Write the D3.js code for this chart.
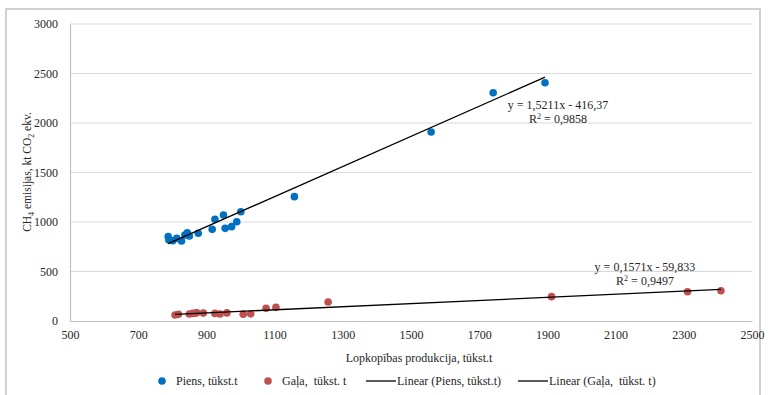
<!DOCTYPE html>
<html><head><meta charset="utf-8">
<script src="https://cdn.jsdelivr.net/npm/d3@7"></script>
<style>
body{margin:0;background:#fff;}
svg text{font-family:"Liberation Serif","Times New Roman",serif !important; white-space:pre;}
</style></head>
<body>
<svg id="chart" width="770" height="395"></svg>
<script>
// Data
const xTicks = [500,700,900,1100,1300,1500,1700,1900,2100,2300,2500];
const yTicks = [0,500,1000,1500,2000,2500,3000];
const pienaX = [788,790,801,813,827,837,844,850,876,917,925,950,955,974,989,1001,1158,1559,1741,1893];
const pienaY = [852,818,811,835,808,869,892,859,886,926,1027,1071,936,953,1003,1104,1256,1909,2306,2406];
const galasX = [808,818,850,860,868,872,891,925,940,960,1008,1030,1075,1104,1257,1912,2311,2409];
const galasY = [61,67,71,77,80,84,80,77,71,82,69,72,128,138,192,246,296,306];
const trendPiens = {slope:1.5211, intercept:-416.37, label:"y = 1,5211x - 416,37", r2:"0,9858"};
const trendGala = {slope:0.1571, intercept:-59.833, label:"y = 0,1571x - 59,833", r2:"0,9497"};
const seriesNames = ["Piens, tūkst.t","Gaļa,  tūkst. t","Linear (Piens, tūkst.t)","Linear (Gaļa,  tūkst. t)"];
const colors = {piens:"#0070C0", gala:"#C0504D"};

const svg = d3.select("#chart");
const m = {l:70, r:18, t:24, b:74};
const W = 770, H = 395;
const x = d3.scaleLinear().domain([500,2500]).range([m.l, W - m.r]);
const y = d3.scaleLinear().domain([0,3000]).range([321, m.t]);
const txt = "#262626";

// outer border
svg.append("rect").attr("x",6).attr("y",9).attr("width",754).attr("height",400)
  .attr("fill","none").attr("stroke","#d0d0d0").attr("stroke-width",2);

// gridlines
svg.append("g").selectAll("line").data(yTicks.filter(d=>d>0)).join("line")
  .attr("x1",x(500)).attr("x2",x(2500)).attr("y1",d=>y(d)).attr("y2",d=>y(d))
  .attr("stroke","#d9d9d9").attr("stroke-width",1.2);

// axes
const xAxis = svg.append("g").attr("transform",`translate(0,${y(0)})`)
  .call(d3.axisBottom(x).tickValues(xTicks).tickSize(0).tickPadding(9).tickFormat(d3.format("d")));
const yAxis = svg.append("g").attr("transform",`translate(${x(500)},0)`)
  .call(d3.axisLeft(y).tickValues(yTicks).tickSize(0).tickPadding(12).tickFormat(d3.format("d")));
[xAxis,yAxis].forEach(a=>{
  a.attr("font-family",null);
  a.select(".domain").attr("stroke","#bfbfbf").attr("stroke-width",1.2);
  a.selectAll("text").attr("font-size",12).attr("fill",txt);
});

// trendlines
function trend(t, xs){
  const x0 = d3.min(xs), x1 = d3.max(xs);
  svg.append("line").attr("x1",x(x0)).attr("y1",y(t.slope*x0+t.intercept))
    .attr("x2",x(x1)).attr("y2",y(t.slope*x1+t.intercept))
    .attr("stroke","#000").attr("stroke-width",1.3);
}

// points
function pts(xs, ys, col){
  svg.append("g").selectAll("circle").data(xs.map((d,i)=>[d,ys[i]])).join("circle")
    .attr("cx",d=>x(d[0])).attr("cy",d=>y(d[1])).attr("r",3.8).attr("fill",col);
}
pts(pienaX, pienaY, colors.piens);
pts(galasX, galasY, colors.gala);
trend(trendPiens, pienaX);
trend(trendGala, galasX);

// equation labels
function eq(t, cx, cy){
  const g = svg.append("g").attr("font-size",12).attr("fill",txt).attr("text-anchor","middle");
  g.append("text").attr("x",cx).attr("y",cy).text(t.label);
  const r = g.append("text").attr("x",cx).attr("y",cy+13.5);
  r.append("tspan").text("R");
  r.append("tspan").attr("font-size",8).attr("dy",-4).text("2");
  r.append("tspan").attr("dy",4).text(" = " + t.r2);
}
eq(trendPiens, 558, 109);
eq(trendGala, 645, 271);

// axis titles
const yt = svg.append("text").attr("transform","translate(31,172) rotate(-90)")
  .attr("text-anchor","middle").attr("font-size",11.5).attr("fill",txt);
yt.append("tspan").text("CH");
yt.append("tspan").attr("font-size",8).attr("dy",3).text("4");
yt.append("tspan").attr("dy",-3).text(" emisijas, kt CO");
yt.append("tspan").attr("font-size",8).attr("dy",3).text("2");
yt.append("tspan").attr("dy",-3).text(" ekv.");

svg.append("text").attr("x",419).attr("y",362).attr("text-anchor","middle")
  .attr("font-size",12).attr("fill",txt).text("Lopkopības produkcija, tūkst.t");

// legend
const ly = 381;
const leg = svg.append("g").attr("font-size",12).attr("fill",txt);
const items = [
  {type:"dot", col:colors.piens, sx:162, tx:176, name:seriesNames[0]},
  {type:"dot", col:colors.gala, sx:268, tx:282, name:seriesNames[1]},
  {type:"line", sx:366, tx:397, name:seriesNames[2]},
  {type:"line", sx:518, tx:549, name:seriesNames[3]}
];
items.forEach(it=>{
  if(it.type==="dot") leg.append("circle").attr("cx",it.sx).attr("cy",ly).attr("r",3.8).attr("fill",it.col);
  else leg.append("line").attr("x1",it.sx).attr("x2",it.sx+30).attr("y1",ly).attr("y2",ly).attr("stroke","#000").attr("stroke-width",1.3);
  leg.append("text").attr("x",it.tx).attr("y",ly+4).text(it.name);
});
</script>
</body></html>
